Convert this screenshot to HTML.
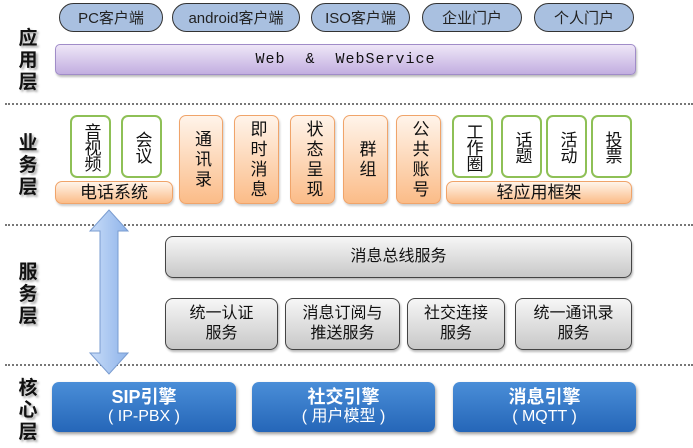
<!DOCTYPE html>
<html><head><meta charset="utf-8"><style>
*{margin:0;padding:0;box-sizing:border-box}
body{width:693px;height:448px;background:#fff;position:relative;overflow:hidden;font-family:"Liberation Sans","Noto Sans CJK SC",sans-serif;color:#111}
.a{position:absolute;display:flex;align-items:center;justify-content:center;text-align:center}
.pill{border:1.5px solid #333;border-radius:15px;background:#a9c0e0;font-size:15px;color:#222}
.web{border-radius:5px;background:linear-gradient(#eee6f7,#c2aee0);border:1px solid #a08cc8;font-family:"Liberation Mono",monospace;font-size:15px;letter-spacing:1px;box-shadow:1px 2px 2px #bbb}
.g{border:2px solid #8ec056;border-radius:7px;background:#fff;font-size:17px;line-height:18px;writing-mode:vertical-rl;letter-spacing:-1px}
.o{border:1px solid #f0a46a;border-radius:7px;background:linear-gradient(#fff4ea,#fbbc88);font-size:17px;line-height:18px;box-shadow:1px 2px 2px #ccc}
.v{writing-mode:vertical-rl;letter-spacing:3px}
.s{border:1.2px solid #444;border-radius:8px;background:linear-gradient(#f6f6f6,#c8c8c8);font-size:16px;line-height:20px;box-shadow:1px 2px 2px #bbb}
.c{border-radius:7px;background:linear-gradient(#4a8ed8,#2566b8);color:#fff;font-size:16px;line-height:20px;box-shadow:1px 2px 3px #999;flex-direction:column}
.c b{font-size:18px}
.lab{position:absolute;left:17px;width:22px;font-size:19px;font-weight:bold;line-height:22px;text-shadow:2px 2px 2px #aaa;text-align:center}
.dash{position:absolute;left:5px;width:688px;border-top:2px dotted #777}
</style></head><body>
<div class="lab" style="top:28px">应<br>用<br>层</div>
<div class="lab" style="top:133px">业<br>务<br>层</div>
<div class="lab" style="top:262px">服<br>务<br>层</div>
<div class="lab" style="top:378px">核<br>心<br>层</div>
<div class="dash" style="top:103px"></div>
<div class="dash" style="top:224px"></div>
<div class="dash" style="top:364px"></div>

<div class="a pill" style="left:59px;top:3px;width:104px;height:29px">PC客户端</div>
<div class="a pill" style="left:172px;top:3px;width:128px;height:29px">android客户端</div>
<div class="a pill" style="left:311px;top:3px;width:99px;height:29px">ISO客户端</div>
<div class="a pill" style="left:422px;top:3px;width:100px;height:29px">企业门户</div>
<div class="a pill" style="left:534px;top:3px;width:100px;height:29px">个人门户</div>
<div class="a web" style="left:55px;top:44px;width:581px;height:31px">Web &nbsp;&amp;&nbsp; WebService</div>

<div class="a g" style="left:70px;top:115px;width:41px;height:63px">音视频</div>
<div class="a g" style="left:121px;top:115px;width:41px;height:63px">会议</div>
<div class="a o" style="left:55px;top:181px;width:118px;height:23px">电话系统</div>
<div class="a o" style="left:179px;top:115px;width:44px;height:89px"><span class="v">通讯录</span></div>
<div class="a o" style="left:234px;top:115px;width:45px;height:89px"><span class="v">即时消息</span></div>
<div class="a o" style="left:290px;top:115px;width:45px;height:89px"><span class="v">状态呈现</span></div>
<div class="a o" style="left:343px;top:115px;width:45px;height:89px"><span class="v">群组</span></div>
<div class="a o" style="left:396px;top:115px;width:45px;height:89px"><span class="v">公共账号</span></div>
<div class="a g" style="left:452px;top:115px;width:41px;height:63px">工作圈</div>
<div class="a g" style="left:501px;top:115px;width:41px;height:63px">话题</div>
<div class="a g" style="left:546px;top:115px;width:41px;height:63px">活动</div>
<div class="a g" style="left:591px;top:115px;width:41px;height:63px">投票</div>
<div class="a o" style="left:446px;top:181px;width:186px;height:23px">轻应用框架</div>

<svg style="position:absolute;left:88px;top:208px" width="44" height="168">
<defs><linearGradient id="ar" x1="0" x2="1"><stop offset="0" stop-color="#c8dcf8"/><stop offset="1" stop-color="#8fb4ea"/></linearGradient></defs>
<polygon points="21,2 40,23 30,23 30,145 40,145 21,166 2,145 12,145 12,23 2,23" fill="url(#ar)" stroke="#7a9cd0" stroke-width="1"/>
</svg>

<div class="a s" style="left:165px;top:236px;width:467px;height:42px">消息总线服务</div>
<div class="a s" style="left:165px;top:298px;width:113px;height:52px">统一认证<br>服务</div>
<div class="a s" style="left:285px;top:298px;width:115px;height:52px">消息订阅与<br>推送服务</div>
<div class="a s" style="left:407px;top:298px;width:98px;height:52px">社交连接<br>服务</div>
<div class="a s" style="left:515px;top:298px;width:117px;height:52px">统一通讯录<br>服务</div>

<div class="a c" style="left:52px;top:382px;width:184px;height:50px"><b>SIP引擎</b><span>( IP-PBX )</span></div>
<div class="a c" style="left:252px;top:382px;width:183px;height:50px"><b>社交引擎</b><span>( 用户模型 )</span></div>
<div class="a c" style="left:453px;top:382px;width:183px;height:50px"><b>消息引擎</b><span>( MQTT )</span></div>
</body></html>
